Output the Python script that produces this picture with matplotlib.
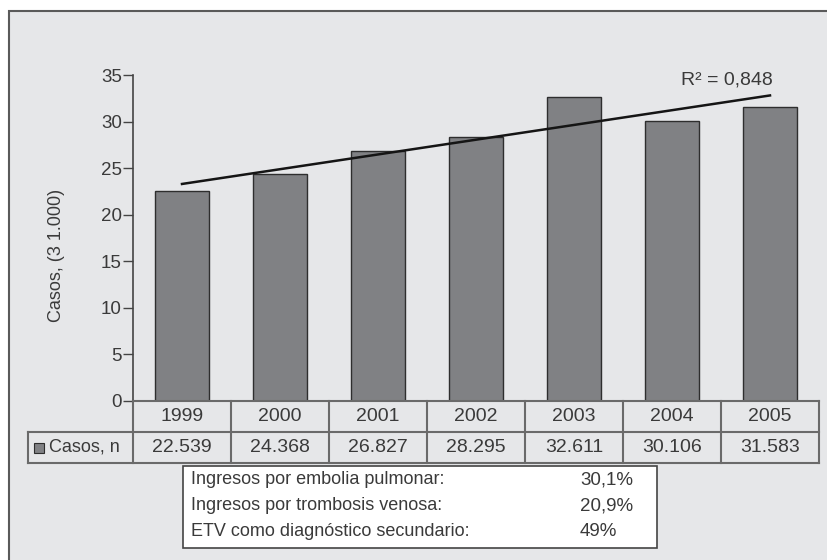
import matplotlib
matplotlib.use('Agg')
import matplotlib.pyplot as plt
import matplotlib.transforms as mtransforms
from matplotlib.patches import Rectangle
import numpy as np

plt.rcParams['font.family'] = ['Liberation Sans', 'DejaVu Sans']

years = ['1999', '2000', '2001', '2002', '2003', '2004', '2005']
casos = [22539, 24368, 26827, 28295, 32611, 30106, 31583]
y_label = 'Casos, (3 1.000)'
row_label = 'Casos, n'
r2_label = 'R² = 0,848'
box_labels = ['Ingresos por embolia pulmonar:',
              'Ingresos por trombosis venosa:',
              'ETV como diagnóstico secundario:']
box_values = ['30,1%', '20,9%', '49%']

W, H = 827, 560
txt = '#3a3a3a'
line_c = '#6a6a6a'

fig = plt.figure(figsize=(W / 100, H / 100), dpi=100)
fig.patch.set_facecolor('white')

# grey panel with border on the top and left
fig.add_artist(Rectangle((8.5 / W, -0.1), 1.2, 1.1 - 11 / H,
                         transform=fig.transFigure, facecolor='#e6e7e9',
                         edgecolor='#5a5a5a', linewidth=1.5, zorder=0))

ax_l, ax_r = 133, 819
ax_top, ax_bot = 75, 400.7
ax = fig.add_axes([ax_l / W, 1 - ax_bot / H, (ax_r - ax_l) / W, (ax_bot - ax_top) / H])
ax.set_facecolor('none')

x = np.arange(len(years))
vals = np.array(casos) / 1000
ax.bar(x, vals, width=0.56, color='#808184', edgecolor='#2e2e2e', linewidth=1.0, zorder=2)

# linear trend
coef = np.polyfit(x, vals, 1)
fit = np.polyval(coef, x)
ax.plot(x, fit, color='#151515', linewidth=1.8, zorder=3)
ax.annotate(r2_label, xy=(x[-1], fit[-1]), xytext=(2, 5), textcoords='offset points',
            ha='right', va='bottom', fontsize=14, color=txt)

ax.set_xlim(-0.5, len(years) - 0.5)
ax.set_ylim(0, 35)
ax.set_yticks(range(0, 36, 5))
ax.tick_params(axis='y', length=7, width=1, color='#444444', labelsize=13.5,
               labelcolor=txt, pad=1)
ax.tick_params(axis='x', bottom=False, labelbottom=False)
for s in ['top', 'right']:
    ax.spines[s].set_visible(False)
ax.spines['left'].set_color('#444444')
ax.spines['left'].set_linewidth(1.2)
ax.spines['bottom'].set_color(line_c)
ax.spines['bottom'].set_linewidth(1.5)
ax.set_ylabel(y_label, fontsize=13, color=txt)
ax.yaxis.set_label_coords((65 - ax_l) / (ax_r - ax_l), 0.447)

# data table under the axis
ah = ax_bot - ax_top
r1 = -31.3 / ah
r2 = -62.6 / ah
lab_x = (28 - ax_l) / (ax_r - ax_l)
blend = mtransforms.blended_transform_factory(ax.transData, ax.transAxes)
for i in range(len(years) + 1):
    ax.plot([i - 0.5, i - 0.5], [0, r2], color=line_c, lw=1.5, transform=blend, clip_on=False)
for yy in [r1, r2]:
    ax.plot([lab_x, 1], [yy, yy], color=line_c, lw=1.5, transform=ax.transAxes, clip_on=False)
ax.plot([lab_x, lab_x], [r1, r2], color=line_c, lw=1.5, transform=ax.transAxes, clip_on=False)
for i, (yr, c) in enumerate(zip(years, casos)):
    ax.text(i, r1 / 2, yr, ha='center', va='center', fontsize=14, color=txt,
            transform=blend, clip_on=False)
    ax.text(i, (r1 + r2) / 2, f'{c:,}'.replace(',', '.'), ha='center', va='center',
            fontsize=14, color=txt, transform=blend, clip_on=False)

sw = 10
fig.add_artist(Rectangle((34 / W, 1 - (448 + sw / 2) / H), sw / W, sw / H,
                         transform=fig.transFigure, facecolor='#808184',
                         edgecolor='#2e2e2e', linewidth=0.8))
fig.text(49 / W, 1 - 447.5 / H, row_label, ha='left', va='center', fontsize=13, color=txt)

# summary box
bx0, bx1, by0, by1 = 183, 657, 466, 548
fig.add_artist(Rectangle((bx0 / W, 1 - by1 / H), (bx1 - bx0) / W, (by1 - by0) / H,
                         transform=fig.transFigure, facecolor='white',
                         edgecolor='#444444', linewidth=1.2))
for k, (lab, v) in enumerate(zip(box_labels, box_values)):
    yy = 1 - (480 + 26 * k) / H
    fig.text(191 / W, yy, lab, ha='left', va='center', fontsize=13, color=txt)
    fig.text(580 / W, yy, v, ha='left', va='center', fontsize=13.5, color=txt)

fig.savefig('out.png', dpi=100)
